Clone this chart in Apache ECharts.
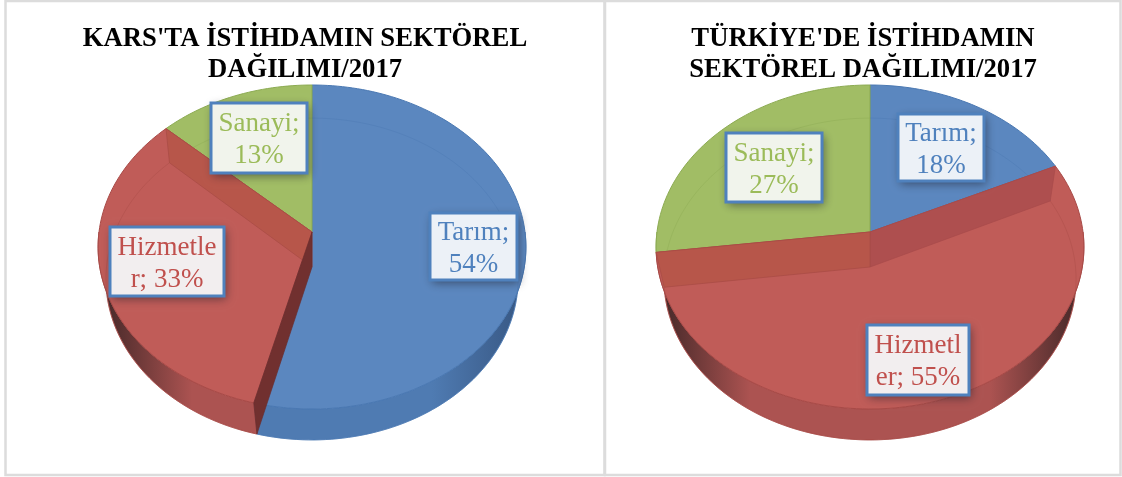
<!DOCTYPE html>
<html><head><meta charset="utf-8">
<style>html,body{margin:0;padding:0;background:#fff}#c{width:1122px;height:477px}</style>
<script src="https://cdn.jsdelivr.net/npm/echarts@6/dist/echarts.min.js"></script>
</head><body><div id="c"></div>
<script>
const categories = ['Tarım', 'Hizmetler', 'Sanayi'];
const karsValues = [54, 33, 13];
const turkiyeValues = [18, 55, 27];
const karsTitle = "KARS'TA İSTİHDAMIN SEKTÖREL\nDAĞILIMI/2017";
const turkiyeTitle = "TÜRKİYE'DE İSTİHDAMIN\nSEKTÖREL DAĞILIMI/2017";
const karsBreaks = [6, 8, 7];
const turkiyeBreaks = [6, 7, 7];

const FONT = '"Liberation Serif","Times New Roman",serif';
const faceColors = ['#5b87bf', '#c05c58', '#a1bd65'];
const edgeColors = ['#4a78b2', '#a84a47', '#8cab52'];
const wallColors = ['#4f7bb2', '#ac5351', '#8aa354'];
const wallDark = ['#3a5b88', '#4e2c2c', '#6c8240'];
const textColors = ['#4f81bd', '#c0504d', '#9bbb59'];
const boxFills = ['#ecf1f7', '#f2eeef', '#f1f4ec'];

// Projection of the tilted disc (top rim and bottom rim of the slab)
const topRim = {ay: 232, rx: 213, ry: 160.6, k: 0.0926};
const botRim = {ay: 267, rx: 205.5, ry: 160, k: 0.0746};
function project(rim, cx, deg) {
  const t = deg * Math.PI / 180, u = Math.sin(t), v = -Math.cos(t), d = 1 - rim.k * v;
  return [cx + rim.rx * u / d, rim.ay + rim.ry * v / d];
}
function arc(rim, cx, a0, a1) {
  const n = Math.max(2, Math.ceil(Math.abs(a1 - a0) / 1.5)), out = [];
  for (let i = 0; i <= n; i++) out.push(project(rim, cx, a0 + (a1 - a0) * i / n));
  return out;
}
function poly(points, fill, stroke, z2, lw) {
  return {type: 'polygon', z2, shape: {points}, style: {fill, stroke: stroke || null, lineWidth: lw === undefined ? 1 : lw}, silent: true};
}

function pieSeries(cfg) {
  const total = cfg.values.reduce((a, b) => a + b, 0);
  const cx = cfg.cx;
  return {
    type: 'custom', coordinateSystem: 'none', silent: true,
    data: cfg.values.map((v, i) => ({name: categories[i], value: [v]})),
    renderItem(params, api) {
      const i = params.dataIndex, val = api.value(0);
      const before = cfg.values.slice(0, i).reduce((a, b) => a + b, 0);
      const a0 = before / total * 360, a1 = (before + val) / total * 360;
      const kids = [];
      const top = arc(topRim, cx, a0, a1), bot = arc(botRim, cx, a0, a1);
      const apexT = [cx, topRim.ay], apexB = [cx, botRim.ay];
      // outer wall: only the front half shows
      const fa0 = Math.max(a0, 90), fa1 = Math.min(a1, 270);
      if (fa1 > fa0) {
        const wt = arc(topRim, cx, fa0, fa1), wb = arc(botRim, cx, fa0, fa1).reverse();
        kids.push(poly(wt.concat(wb), {
          type: 'linear', x: cx - 214, y: 0, x2: cx + 214, y2: 0, global: true,
          colorStops: [
            {offset: 0.03, color: wallDark[i]}, {offset: 0.22, color: wallColors[i]},
            {offset: 0.78, color: wallColors[i]}, {offset: 0.97, color: wallDark[i]}
          ]
        }, edgeColors[i], 1, 0.8));
      }
      // top face
      kids.push(poly([apexT].concat(top), faceColors[i], edgeColors[i], i === 1 ? 3 : 2));
      // far rim seen through the face
      kids.push({type: 'polyline', z2: 4, silent: true, shape: {points: bot},
        style: {fill: null, stroke: edgeColors[i], lineWidth: 1, opacity: 0.4}});
      // cut walls seen through the translucent slice
      (cfg.cuts[i] || []).forEach((c, j) => {
        const a = c.end ? a1 : a0;
        kids.push(poly([apexT, project(topRim, cx, a), project(botRim, cx, a), apexB], c.color, c.stroke, 5 + j, 0.7));
      });
      // data label: a filled rect casts the shadow, a second one carries the border
      const b = cfg.boxes[i];
      const str = categories[i] + '; ' + val + '%';
      const cut = cfg.breaks[i];
      const txt = str.slice(0, cut) + '\n' + str.slice(cut).trim();
      const shape = {x: b[0], y: b[1], width: b[2], height: b[3]};
      kids.push({type: 'rect', z2: 8, silent: true, shape,
        style: {fill: boxFills[i], shadowBlur: 9, shadowOffsetX: 2, shadowOffsetY: 3, shadowColor: 'rgba(30,30,40,0.55)'}});
      kids.push({type: 'rect', z2: 9, silent: true, shape,
        style: {fill: boxFills[i], stroke: '#4f81bd', lineWidth: 3}});
      kids.push({type: 'text', z2: 10, silent: true, x: b[0] + b[2] / 2, y: b[1] + b[3] / 2 + 2,
        style: {text: txt, fill: textColors[i], font: '27px ' + FONT, lineHeight: 32, align: 'center', verticalAlign: 'middle'}});
      return {type: 'group', children: kids};
    }
  };
}

const chart = echarts.init(document.getElementById('c'), null, {renderer: 'canvas'});
const titleStyle = {fontFamily: FONT, fontWeight: 'bold', fontSize: 26.7, color: '#000', lineHeight: 31};
chart.setOption({
  animation: false,
  backgroundColor: '#fff',
  title: [
    {text: karsTitle, left: 305, top: 24, textAlign: 'center', padding: 0, textStyle: titleStyle},
    {text: turkiyeTitle, left: 863, top: 24, textAlign: 'center', padding: 0, textStyle: titleStyle}
  ],
  graphic: [
    {type: 'rect', silent: true, shape: {x: 5.5, y: 1, width: 599, height: 474}, style: {fill: null, stroke: '#dcdcdc', lineWidth: 2.5}},
    {type: 'rect', silent: true, shape: {x: 605, y: 1, width: 515.5, height: 474}, style: {fill: null, stroke: '#dcdcdc', lineWidth: 2.5}}
  ],
  series: [
    pieSeries({cx: 312, values: karsValues, breaks: karsBreaks,
      boxes: [[430, 213, 87, 67], [110, 227, 114, 69], [211, 103, 96, 70]],
      cuts: {1: [{end: true, color: '#b7564a', stroke: '#a84a45'}, {end: false, color: '#71302f', stroke: '#6a2c2c'}]}}),
    pieSeries({cx: 870, values: turkiyeValues, breaks: turkiyeBreaks,
      boxes: [[898, 114, 86, 67], [867, 325, 102, 70], [726, 133, 96, 69]],
      cuts: {1: [{end: false, color: '#ae4f4f', stroke: '#a84a4a'}, {end: true, color: '#b7564a', stroke: '#a84a45'}]}})
  ]
});
</script></body></html>
